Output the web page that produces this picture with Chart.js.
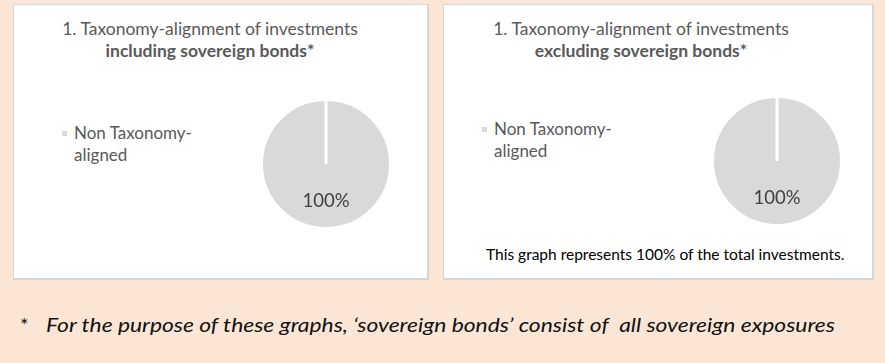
<!DOCTYPE html>
<html>
<head>
<meta charset="utf-8">
<script src="https://cdn.jsdelivr.net/npm/chart.js@4.4.1/dist/chart.umd.min.js"></script>
<style>
  html, body { margin: 0; padding: 0; }
  body {
    width: 885px; height: 363px; background: #fbe6d6;
    position: relative; overflow: hidden;
    font-family: Lato, "Open Sans", sans-serif;
  }
  .panel {
    position: absolute; top: 4px; height: 273px; background: #fff;
    border: 1px solid #d6d6d6; border-right-width: 2px; border-bottom-width: 2px;
  }
  .title {
    position: absolute; top: 18px; width: 340px; text-align: center;
    color: #595959; font-size: 17.5px; line-height: 22px; white-space: nowrap;
  }
  .title b { font-weight: bold; }
  .legend {
    position: absolute; color: #595959; font-size: 17px; line-height: 22px; white-space: nowrap;
  }
  .legend .box {
    position: absolute; left: -12px; top: 9px; width: 5px; height: 5px; background: #d9d9d9;
  }
  canvas { position: absolute; }
  .note { position: absolute; color: #000; font-size: 15.5px; white-space: nowrap; }
  .foot { position: absolute; left: 20px; top: 312px; font-size: 20px; line-height: 24px; color: #111; white-space: nowrap; }
  .foot i { position: absolute; left: 26px; top: 0; transform-origin: 0 0; }
</style>
</head>
<body>
<div class="panel" style="left:13px;width:413px"></div>
<div class="panel" style="left:443px;width:428px"></div>

<div class="title" style="left:40px">1. Taxonomy-alignment of investments<br><b>including sovereign bonds*</b></div>
<div class="title" style="left:471px">1. Taxonomy-alignment of investments<br><b>excluding sovereign bonds*</b></div>

<div class="legend" id="legend1" style="left:74px;top:122px"></div>
<div class="legend" id="legend2" style="left:494px;top:118px"></div>

<canvas id="pie1" width="140" height="140" style="left:256px;top:94px"></canvas>
<canvas id="pie2" width="140" height="140" style="left:707px;top:91px"></canvas>

<div class="note" id="note" style="top:245px">This graph represents 100% of the total investments.</div>
<div class="foot">*<i id="footText">For the purpose of these graphs, ‘sovereign bonds’ consist of&nbsp; all sovereign exposures</i></div>

<script>
// Data
const categories = ['Non Taxonomy-aligned'];
const inclSovereign = [100];
const exclSovereign = [100];
const sliceColors = ['#d9d9d9'];

// Legend text (wrapped like the original)
const legendLines = ['Non Taxonomy-', 'aligned'];
['legend1', 'legend2'].forEach(id => {
    const el = document.getElementById(id);
    el.innerHTML = '<span class="box"></span>' + legendLines.join('<br>');
});

// Percentage labels inside the slice
const pctLabels = {
    id: 'pctLabels',
    afterDatasetsDraw(chart) {
        const ctx = chart.ctx;
        const meta = chart.getDatasetMeta(0);
        const values = chart.data.datasets[0].data;
        const total = values.reduce((a, b) => a + b, 0);
        meta.data.forEach((arc, i) => {
            const mid = (arc.startAngle + arc.endAngle) / 2;
            const r = arc.outerRadius * 0.58;
            const x = arc.x + Math.cos(mid) * r;
            const y = arc.y + Math.sin(mid) * r;
            ctx.save();
            ctx.fillStyle = '#404040';
            ctx.font = '18.5px Lato, "Open Sans", sans-serif';
            ctx.textAlign = 'center';
            ctx.textBaseline = 'middle';
            ctx.fillText(Math.round(values[i] / total * 100) + '%', x, y);
            ctx.restore();
        });
    }
};

function makePie(id, values) {
    new Chart(document.getElementById(id), {
        type: 'pie',
        data: {
            labels: categories,
            datasets: [{
                data: values,
                backgroundColor: sliceColors,
                borderColor: '#ffffff',
                borderWidth: 3
            }]
        },
        options: {
            responsive: false,
            animation: false,
            layout: { padding: 4 },
            plugins: {
                legend: { display: false },
                tooltip: { enabled: false }
            }
        },
        plugins: [pctLabels]
    });
}

makePie('pie1', inclSovereign);
makePie('pie2', exclSovereign);

// Centre the note and fit the footnote to the original's width
const note = document.getElementById('note');
note.style.left = (665 - note.offsetWidth / 2) + 'px';
const foot = document.getElementById('footText');
foot.style.transform = 'scaleX(' + (789 / foot.offsetWidth) + ')';
</script>
</body>
</html>
